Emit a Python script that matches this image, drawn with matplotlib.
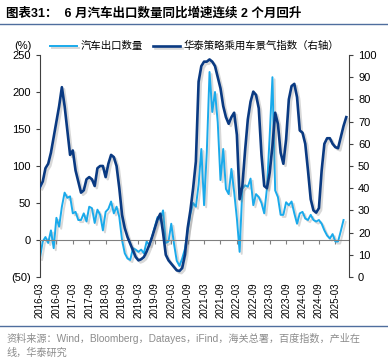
import matplotlib
matplotlib.use("Agg")
import matplotlib.pyplot as plt
import matplotlib.patheffects as pe
import numpy as np
import pandas as pd

plt.rcParams['font.family'] = ['Liberation Sans', 'Noto Sans CJK SC', 'DejaVu Sans']

# Monthly data, 2016-03 onwards
months = pd.date_range('2016-03-01', periods=113, freq='MS')

export_yoy = [-24, -2, 4, -4, 13, -11, 30, 18, 45, 64, 57, 59,
              36, 38, 27, 27, 36, 25, 45, 43, 23, 41, 34, 13,
              38, 42, 52, 36, 45, 31, 0, -18, -25, -27, -11, -13,
              -16, -13, -18, -2, -7, 5, 18, 31, 27, 40, -4, -2,
              22, -5, -28, -35, -25, -12, 12, 35, 50, 45, 75, 123,
              47, 119, 227, 173, 200, 159, 81, 123, 69, 62, 96, 65,
              29, -16, 69, 74, 72, 83, 47, 62, 58, 50, 36, 70,
              141, 220, 67, 58, 34, 34, 51, 47, 52, 36, 22, 36,
              38, 29, 27, 34, 27, 25, 27, 22, 13, 6, 2, 8,
              -2, -2, 12, 27]

sentiment_idx = [40.5, 43, 49, 51, 56, 63, 70, 77, 85.5, 77, 66, 55,
                 57, 48, 43, 38, 39, 44, 45, 44, 41, 49, 50, 50,
                 45, 51, 55, 54, 50, 40, 28, 22, 18, 15, 12, 9,
                 7.5, 8, 9, 11.5, 14.5, 18, 22, 26, 28.5, 20, 10, 7.5,
                 6, 4.5, 3, 2.7, 4, 10, 22, 30, 40, 52, 88, 95,
                 97, 97, 98, 97, 95, 90, 85, 77, 72, 69, 72, 74,
                 64, 35, 41, 57, 71, 79, 83.5, 82, 76, 55, 41, 40,
                 47, 59, 74, 69, 56, 51, 62, 80, 86, 87, 81, 66,
                 65, 60, 48, 35, 30, 29, 31, 48, 60, 62.5, 62.5, 60,
                 58.5, 58, 63, 68, 72]

tick_labels = [d.strftime('%Y-%m') for d in pd.date_range('2016-03-01', '2025-03-01', freq='6MS')]

light = '#1AAAEB'
dark = '#0A3A82'
axis_col = '#404040'

fig = plt.figure(figsize=(3.88, 3.60), dpi=100)
ax = fig.add_axes([40 / 388, 1 - 277 / 360, 309 / 388, 222 / 360])
ax2 = ax.twinx()

shadow = [pe.SimpleLineShadow(offset=(1.5, -1.5), shadow_color='gray', alpha=0.3), pe.Normal()]

x_exp = np.arange(len(export_yoy))
x_idx = np.arange(len(sentiment_idx))
l1, = ax.plot(x_exp, export_yoy, color=light, lw=1.4, path_effects=shadow, label='汽车出口数量')
l2, = ax2.plot(x_idx, sentiment_idx, color=dark, lw=1.9, path_effects=shadow, label='华泰策略乘用车景气指数（右轴）')

ax.set_xlim(0, 113)
ax.set_ylim(-50, 250)
ax2.set_ylim(0, 100)

ax.set_yticks(range(-50, 251, 50))
ax.set_yticklabels(['(50)' if v < 0 else str(v) for v in range(-50, 251, 50)])
ax2.set_yticks(range(0, 101, 10))

for a in (ax, ax2):
    a.spines['top'].set_visible(False)
    a.tick_params(labelsize=8, colors='black', length=3, width=0.8)
ax2.spines['bottom'].set_visible(False)
ax2.spines['left'].set_visible(False)
ax.spines['right'].set_visible(False)
ax.spines['left'].set_color(axis_col)
ax2.spines['right'].set_color(axis_col)
ax.tick_params(axis='y', color=axis_col)
ax2.tick_params(axis='y', color=axis_col)

# zero line carries the x ticks
tick_pos = np.arange(0, 6 * len(tick_labels), 6)
ax.spines['bottom'].set_position(('data', 0))
ax.spines['bottom'].set_color('#808080')
ax.set_xticks(tick_pos)
ax.tick_params(axis='x', labelbottom=False, color='#808080', length=3)

sec = ax.secondary_xaxis('bottom')
sec.set_xticks(tick_pos)
sec.set_xticklabels(tick_labels, rotation=90, fontsize=7)
sec.tick_params(length=0, pad=4)
sec.spines['bottom'].set_visible(False)

fig.text(14 / 388, 1 - 46 / 360, '(%)', fontsize=8, va='center')
fig.legend(handles=[l1, l2], loc='center left', bbox_to_anchor=(50 / 388, 1 - 46 / 360),
           ncol=2, frameon=False, fontsize=7.5, handlelength=2.6, columnspacing=1.0,
           handletextpad=0.3, borderaxespad=0, borderpad=0)

fig.text(6 / 388, 1 - 13 / 360, '图表31：  6 月汽车出口数量同比增速连续 2 个月回升',
         fontsize=9, fontweight='bold', va='center')
fig.add_artist(plt.Line2D([0, 1], [1 - 24 / 360, 1 - 24 / 360], color='#4F6E9E', lw=1))
fig.add_artist(plt.Line2D([0, 1], [1 - 326 / 360, 1 - 326 / 360], color='#4F6E9E', lw=1))
fig.text(6 / 388, 1 - 338 / 360,
         '资料来源：Wind，Bloomberg，Datayes，iFind，海关总署，百度指数，产业在',
         fontsize=7.3, color='#8C8C8C', va='center')
fig.text(6 / 388, 1 - 353 / 360, '线，华泰研究', fontsize=7.3, color='#8C8C8C', va='center')

fig.savefig('out.png', dpi=100)
